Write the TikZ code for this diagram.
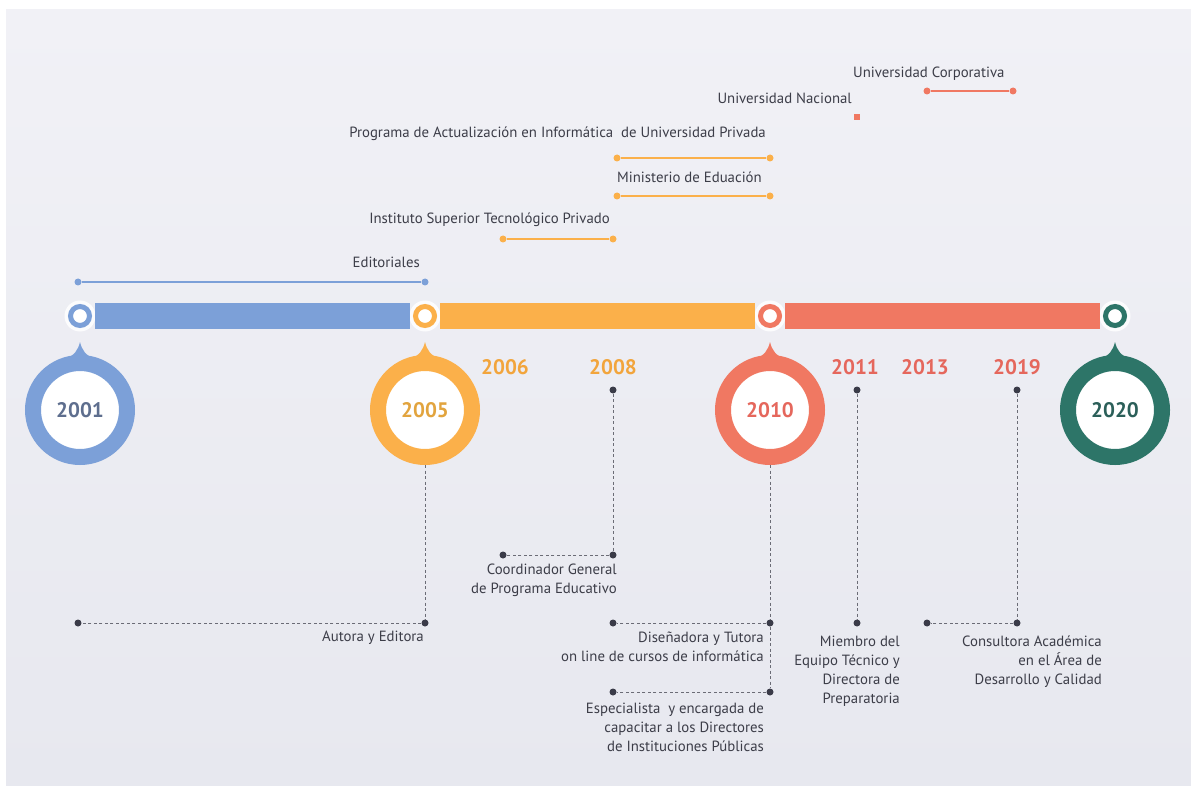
\documentclass[tikz,border=0pt]{standalone}
\usepackage{fontspec}
\setmainfont{PT Sans}
\usetikzlibrary{calc}
\definecolor{bgtop}{HTML}{F1F1F6}
\definecolor{bgbot}{HTML}{E7E8EF}
\definecolor{bluec}{HTML}{7CA0D8}
\definecolor{orangec}{HTML}{FBB04A}
\definecolor{redc}{HTML}{F07862}
\definecolor{tealc}{HTML}{2D7568}
\definecolor{dotc}{HTML}{3A3B48}
\definecolor{txtc}{HTML}{3C3D48}
\definecolor{yblue}{HTML}{5E6E8E}
\definecolor{yorange}{HTML}{F2A53C}
\definecolor{ygold}{HTML}{E2A43E}
\definecolor{yred}{HTML}{E5675C}
\definecolor{yteal}{HTML}{2B5F59}
\begin{document}
\begin{tikzpicture}[x=1pt,y=-1pt,
  halo/.style={circle, fill=white, fill opacity=0.85, minimum size=31pt, inner sep=0pt},
  smallring/.style={circle, draw=#1, line width=5pt, fill=white, minimum size=19pt, inner sep=0pt},
  bigring/.style={circle, draw=#1, line width=16pt, fill=white, minimum size=94pt, inner sep=0pt},
  bigyear/.style={font=\bfseries\fontsize{21}{21}\selectfont, text=#1, inner sep=0pt},
  bar/.style={line width=26pt, draw=#1},
  dot/.style={circle, fill=dotc, minimum size=7pt, inner sep=0pt},
  dline/.style={draw=dotc!75, line width=0.8pt, dash pattern=on 3pt off 2.5pt},
  rangeline/.style={line width=2.5pt, draw=#1},
  rdot/.style={circle, fill=#1, minimum size=7pt, inner sep=0pt},
  rsq/.style={rectangle, fill=#1, minimum size=6pt, inner sep=0pt},
  lbl/.style={font=\fontsize{14.8}{19}\selectfont, text=txtc, inner sep=0pt, align=right},
  year/.style={font=\bfseries\fontsize{21}{21}\selectfont, text=#1, inner sep=0pt}
]
\useasboundingbox (0,0) rectangle (1191,786);
% page and backdrop
\fill[white] (0,0) rectangle (1191,786);
\shade[top color=bgtop, bottom color=bgbot] (6,10) rectangle (1191,786);

% main bar with the small rings
\node[halo] (h2001) at (80,316) {};
\node[halo] (h2005) at (425,316) {};
\node[halo] (h2010) at (770,316) {};
\node[halo] (h2020) at (1115,316) {};
\draw[bar=bluec] ($(h2001.center)+(15,0)$) -- ($(h2005.center)+(-15,0)$);
\draw[bar=orangec] ($(h2005.center)+(15,0)$) -- ($(h2010.center)+(-15,0)$);
\draw[bar=redc] ($(h2010.center)+(15,0)$) -- ($(h2020.center)+(-15,0)$);
\node[smallring=bluec] (s2001) at (80,316) {};
\node[smallring=orangec] (s2005) at (425,316) {};
\node[smallring=redc] (s2010) at (770,316) {};
\node[smallring=tealc] (s2020) at (1115,316) {};

% big drop-shaped year markers
\foreach \nm/\cx/\col in {c2001/80/bluec, c2005/425/orangec, c2010/770/redc, c2020/1115/tealc}{
  \node[bigring=\col] (\nm) at (\cx,410) {};
  \fill[\col] ($(\nm.center)+(-16,-50)$) .. controls ($(\nm.center)+(-5,-55)$) and ($(\nm.center)+(-2,-60)$) .. ($(\nm.center)+(0,-68)$)
     .. controls ($(\nm.center)+(2,-60)$) and ($(\nm.center)+(5,-55)$) .. ($(\nm.center)+(16,-50)$) -- cycle;
}
% year texts inside the rings
\node[bigyear=yblue] (t2001) at (c2001) {2001};
\node[bigyear=ygold] (t2005) at (c2005) {2005};
\node[bigyear=yred] (t2010) at (c2010) {2010};
\node[bigyear=yteal] (t2020) at (c2020) {2020};

% intermediate years
\node[year=yorange] (y2006) at (505,367) {2006};
\node[year=yorange] (y2008) at (613,367) {2008};
\node[year=yred] (y2011) at (855,367) {2011};
\node[year=yred] (y2013) at (925,367) {2013};
\node[year=yred] (y2019) at (1017,367) {2019};

% ranges above the bar
\node[rdot=bluec] (e1) at (78,282) {};
\node[rdot=bluec] (e2) at (425,282) {};
\draw[rangeline=bluec] (e1) -- (e2);
\node[lbl, anchor=east] (tEdit) at (420,262) {Editoriales};

\node[rdot=orangec] (i1) at (503,239) {};
\node[rdot=orangec] (i2) at (613,239) {};
\draw[rangeline=orangec] (i1) -- (i2);
\node[lbl, anchor=east] (tInst) at (610,220) {Instituto Superior Tecnológico Privado};

\node[rdot=orangec] (m1) at (617,196) {};
\node[rdot=orangec] (m2) at (770,196) {};
\draw[rangeline=orangec] (m1) -- (m2);
\node[lbl, anchor=west] (tMin) at (617,177) {Ministerio de Eduación};

\node[rdot=orangec] (p1) at (617,158) {};
\node[rdot=orangec] (p2) at (770,158) {};
\draw[rangeline=orangec] (p1) -- (p2);
\node[lbl, anchor=east] (tProg) at (766,134) {Programa de Actualización en Informática\ \ de Universidad Privada};

\node[rsq=redc] (n1) at (857,117) {};
\node[lbl, anchor=east] (tNac) at (852,98) {Universidad Nacional};

\node[rdot=redc] (u1) at (927,91) {};
\node[rdot=redc] (u2) at (1013,91) {};
\draw[rangeline=redc] (u1) -- (u2);
\node[lbl, anchor=west] (tCorp) at (853,74) {Universidad Corporativa};

% roles below the bar
\node[dot] (d05a) at (425,623) {};
\node[dot] (d05b) at (78,623) {};
\draw[dline] (c2005.south) -- (d05a);
\draw[dline] (d05a) -- (d05b);
\node[lbl, anchor=north east] (tAut) at (424,631) {Autora y Editora};

\node[dot] (d08a) at (613,390) {};
\node[dot] (d08b) at (613,555) {};
\node[dot] (d08c) at (503,555) {};
\draw[dline] (d08a) -- (d08b);
\draw[dline] (d08b) -- (d08c);
\node[lbl, anchor=north east] (tCoord) at (617,564) {Coordinador General\\de Programa Educativo};

\node[dot] (d10a) at (770,623) {};
\node[dot] (d10b) at (613,623) {};
\node[dot] (d10c) at (770,692) {};
\node[dot] (d10d) at (613,692) {};
\draw[dline] (c2010.south) -- (d10a);
\draw[dline] (d10a) -- (d10c);
\draw[dline] (d10a) -- (d10b);
\draw[dline] (d10c) -- (d10d);
\node[lbl, anchor=north east] (tDis) at (764,632) {Diseñadora y Tutora\\on line de cursos de informática};
\node[lbl, anchor=north east] (tEsp) at (764,703) {Especialista\ \ y encargada de\\capacitar a los Directores\\de Instituciones Públicas};

\node[dot] (d11a) at (857,390) {};
\node[dot] (d11b) at (857,623) {};
\draw[dline] (d11a) -- (d11b);
\node[lbl, anchor=north east] (tMiem) at (900,636) {Miembro del\\Equipo Técnico y\\Directora de\\Preparatoria};

\node[dot] (d19a) at (1017,390) {};
\node[dot] (d19b) at (1017,623) {};
\node[dot] (d19c) at (927,623) {};
\draw[dline] (d19a) -- (d19b);
\draw[dline] (d19b) -- (d19c);
\node[lbl, anchor=north east] (tCons) at (1102,636) {Consultora Académica\\en el Área de\\Desarrollo y Calidad};
\end{tikzpicture}
\end{document}
